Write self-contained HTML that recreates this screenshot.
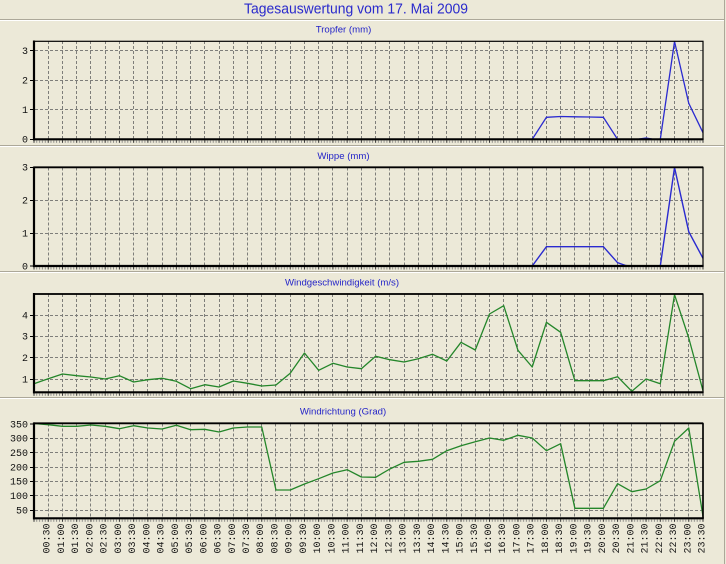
<!DOCTYPE html>
<html><head><meta charset="utf-8"><style>
html,body{margin:0;padding:0;background:#ECE9D8;}
svg{display:block;}
.yl{font-family:"Liberation Mono",monospace;font-size:10px;fill:#111;text-anchor:end;}
.xl{font-family:"Liberation Mono",monospace;font-size:10px;fill:#111;text-anchor:end;}
.st{font-family:"Liberation Sans",sans-serif;font-size:9.6px;fill:#2424C8;text-anchor:middle;}
.gr{fill:none;stroke:#7e7e7a;stroke-width:1;stroke-dasharray:3 2;}
.bx{fill:none;stroke:#000;stroke-width:1.2;}
.ax{stroke:#000;stroke-width:2.2;}
.tk{stroke:#000;stroke-width:1;}
</style></head><body>
<svg width="726" height="564" viewBox="0 0 726 564" xmlns="http://www.w3.org/2000/svg">
<defs>
<path id="vg98" d="M48.5 0v98M62.5 0v98M76.5 0v98M90.5 0v98M105.5 0v98M119.5 0v98M133.5 0v98M147.5 0v98M162.5 0v98M176.5 0v98M190.5 0v98M204.5 0v98M219.5 0v98M233.5 0v98M247.5 0v98M261.5 0v98M275.5 0v98M290.5 0v98M304.5 0v98M318.5 0v98M332.5 0v98M347.5 0v98M361.5 0v98M375.5 0v98M389.5 0v98M404.5 0v98M418.5 0v98M432.5 0v98M446.5 0v98M461.5 0v98M475.5 0v98M489.5 0v98M503.5 0v98M517.5 0v98M532.5 0v98M546.5 0v98M560.5 0v98M574.5 0v98M589.5 0v98M603.5 0v98M617.5 0v98M631.5 0v98M646.5 0v98M660.5 0v98M674.5 0v98M688.5 0v98"/>
<path id="vg95" d="M48.5 0v95M62.5 0v95M76.5 0v95M90.5 0v95M105.5 0v95M119.5 0v95M133.5 0v95M147.5 0v95M162.5 0v95M176.5 0v95M190.5 0v95M204.5 0v95M219.5 0v95M233.5 0v95M247.5 0v95M261.5 0v95M275.5 0v95M290.5 0v95M304.5 0v95M318.5 0v95M332.5 0v95M347.5 0v95M361.5 0v95M375.5 0v95M389.5 0v95M404.5 0v95M418.5 0v95M432.5 0v95M446.5 0v95M461.5 0v95M475.5 0v95M489.5 0v95M503.5 0v95M517.5 0v95M532.5 0v95M546.5 0v95M560.5 0v95M574.5 0v95M589.5 0v95M603.5 0v95M617.5 0v95M631.5 0v95M646.5 0v95M660.5 0v95M674.5 0v95M688.5 0v95"/>
<pattern id="tkp" x="33.5" y="0" width="14.234" height="10" patternUnits="userSpaceOnUse">
<rect x="0" y="0" width="1" height="10" fill="#333"/>
<rect x="2.847" y="0" width="0.8" height="10" fill="#777"/>
<rect x="5.694" y="0" width="0.8" height="10" fill="#777"/>
<rect x="8.54" y="0" width="0.8" height="10" fill="#777"/>
<rect x="11.387" y="0" width="0.8" height="10" fill="#777"/>
</pattern>
</defs>

<g shape-rendering="crispEdges">
<rect x="0" y="19" width="725" height="1" fill="#ACA899"/><rect x="0" y="20" width="725" height="1" fill="#fff"/>
<rect x="0" y="145" width="725" height="1" fill="#ACA899"/><rect x="0" y="146" width="725" height="1" fill="#fff"/>
<rect x="0" y="271" width="725" height="1" fill="#ACA899"/><rect x="0" y="272" width="725" height="1" fill="#fff"/>
<rect x="0" y="397" width="725" height="1" fill="#ACA899"/><rect x="0" y="398" width="725" height="1" fill="#fff"/>
<rect x="724" y="0" width="1" height="564" fill="#ACA899"/>
</g>

<text x="356" y="13.5" font-family="Liberation Sans, sans-serif" font-size="14.5" fill="#2A2ACC" text-anchor="middle" textLength="224" lengthAdjust="spacingAndGlyphs">Tagesauswertung vom 17. Mai 2009</text>

<text class="st" x="343.5" y="32.5">Tropfer (mm)</text>
<text class="st" x="343.5" y="158.8">Wippe (mm)</text>
<text class="st" x="342" y="285.5">Windgeschwindigkeit (m/s)</text>
<text class="st" x="343" y="414.3">Windrichtung (Grad)</text>

<!-- Panel 1 -->
<use href="#vg98" class="gr" y="41"/>
<path class="gr" d="M35 50.5H703M35 80.5H703M35 109.5H703"/>
<polyline fill="none" stroke="#2a2ad0" stroke-width="1.3" points="34,139.3 532.19,139.3 546.42,117.3 560.66,116.5 574.89,116.8 589.13,117 603.36,117.3 617.59,139.3 631.83,139.3 639,139 646.06,138 652,139 660.3,139.3 674.53,41.5 688.76,103.3 703,132.7"/>
<rect class="bx" x="34" y="41.3" width="669" height="98"/>
<line class="ax" x1="34" y1="40.5" x2="34" y2="140.4"/>
<line class="ax" x1="33" y1="139.3" x2="703.6" y2="139.3"/>
<rect x="33.5" y="140.3" width="670" height="2.5" fill="url(#tkp)"/>
<path class="tk" d="M30 139.5H33M30 109.5H33M30 80.5H33M30 50.5H33"/>
<text class="yl" x="28" y="142.6">0</text>
<text class="yl" x="28" y="113">1</text>
<text class="yl" x="28" y="83.4">2</text>
<text class="yl" x="28" y="53.8">3</text>

<!-- Panel 2 -->
<use href="#vg98" class="gr" y="167.5"/>
<path class="gr" d="M35 200.5H703M35 233.5H703"/>
<polyline fill="none" stroke="#2a2ad0" stroke-width="1.4" points="34,266 532.19,266 546.42,246.7 560.66,246.7 574.89,246.7 589.13,246.7 603.36,246.7 617.59,262.7 626,265.6 631.83,266 660.3,266 674.53,167.5 688.76,231.7 703,258.3"/>
<rect class="bx" x="34" y="167.3" width="669" height="98.7"/>
<line x1="34" y1="167.3" x2="703" y2="167.3" stroke="#000" stroke-width="1.8"/>
<line class="ax" x1="34" y1="166.5" x2="34" y2="267.1"/>
<line class="ax" x1="33" y1="266" x2="703.6" y2="266"/>
<rect x="33.5" y="267" width="670" height="2.5" fill="url(#tkp)"/>
<path class="tk" d="M30 266H33M30 233.5H33M30 200.5H33M30 167.5H33"/>
<text class="yl" x="28" y="269.3">0</text>
<text class="yl" x="28" y="236.3">1</text>
<text class="yl" x="28" y="203.3">2</text>
<text class="yl" x="28" y="170.6">3</text>

<!-- Panel 3 -->
<use href="#vg98" class="gr" y="294"/>
<path class="gr" d="M35 315.5H703M35 336.5H703M35 357.5H703M35 379.5H703"/>
<polyline fill="none" stroke="#24862a" stroke-width="1.3" stroke-linejoin="round" points="34,383.7 48.23,378.7 62.47,374 76.7,375.7 90.94,377 105.17,379 119.4,375.7 133.64,382 147.87,379.7 162.11,378.3 176.34,381.3 190.57,388.7 204.81,384.7 219.04,387 233.28,381 247.51,383.3 261.74,386 275.98,385 290.21,373.3 304.45,353 318.68,370.3 332.91,363.3 347.15,367 361.38,368.7 375.62,356.3 389.85,359.7 404.08,362 418.32,358.7 432.55,354.3 446.79,361 461.02,342.3 475.25,350 489.49,314 503.72,305.7 517.96,350.3 532.19,367 546.42,322.3 560.66,332.3 574.89,380.7 589.13,380.7 603.36,380.7 617.59,376.7 631.83,391.3 646.06,379 660.3,383.7 674.53,294.7 688.76,338 703,390.7"/>
<rect class="bx" x="34" y="294" width="669" height="98.3"/>
<line x1="34" y1="294" x2="703" y2="294" stroke="#000" stroke-width="1.8"/>
<line class="ax" x1="34" y1="293" x2="34" y2="393.4"/>
<line class="ax" x1="33" y1="392.3" x2="703.6" y2="392.3"/>
<rect x="33.5" y="393.3" width="670" height="2.5" fill="url(#tkp)"/>
<path class="tk" d="M30 379.5H33M30 357.5H33M30 336.5H33M30 315.5H33"/>
<text class="yl" x="28" y="382.5">1</text>
<text class="yl" x="28" y="361">2</text>
<text class="yl" x="28" y="339.6">3</text>
<text class="yl" x="28" y="318.3">4</text>

<!-- Panel 4 -->
<use href="#vg95" class="gr" y="423.5"/>
<path class="gr" d="M35 438.5H703M35 452.5H703M35 467.5H703M35 481.5H703M35 495.5H703M35 510.5H703"/>
<polyline fill="none" stroke="#24862a" stroke-width="1.3" stroke-linejoin="round" points="34,423.5 48.23,424.7 62.47,426.3 76.7,426.3 90.94,425 105.17,426.3 119.4,428.7 133.64,425.7 147.87,428 162.11,429 176.34,425.3 190.57,429.7 204.81,429.3 219.04,432 233.28,428 247.51,427 261.74,427 275.98,490 290.21,490 304.45,484 318.68,478.7 332.91,473 347.15,469.7 361.38,477 375.62,477.3 389.85,469 404.08,462.3 418.32,461.3 432.55,459.3 446.79,450.7 461.02,445.7 475.25,441.7 489.49,438 503.72,440.3 517.96,435.3 532.19,438 546.42,450.7 560.66,443.7 574.89,508.3 589.13,508.3 603.36,508.3 617.59,483.7 631.83,491.7 646.06,489 660.3,480.7 674.53,441.3 688.76,428 703,516.3"/>
<rect class="bx" x="34" y="423.3" width="669" height="95"/>
<line x1="34" y1="423.3" x2="703" y2="423.3" stroke="#000" stroke-width="1.8"/>
<line x1="703" y1="423.3" x2="703" y2="518.3" stroke="#000" stroke-width="1.6"/>
<line class="ax" x1="34" y1="422.4" x2="34" y2="519.4"/>
<line class="ax" x1="33" y1="518.3" x2="703.8" y2="518.3"/>
<rect x="33.5" y="519.3" width="670" height="2.5" fill="url(#tkp)"/>
<path class="tk" d="M30 424H33M30 438.5H33M30 452.5H33M30 467.5H33M30 481.5H33M30 495.5H33M30 510.5H33"/>
<text class="yl" x="28" y="427.3">350</text>
<text class="yl" x="28" y="441.6">300</text>
<text class="yl" x="28" y="456">250</text>
<text class="yl" x="28" y="470.3">200</text>
<text class="yl" x="28" y="484.7">150</text>
<text class="yl" x="28" y="499">100</text>
<text class="yl" x="28" y="513.4">50</text>

<g class="xl">
<text transform="translate(49.7,523.5) rotate(-90)">00:30</text>
<text transform="translate(64.0,523.5) rotate(-90)">01:00</text>
<text transform="translate(78.2,523.5) rotate(-90)">01:30</text>
<text transform="translate(92.4,523.5) rotate(-90)">02:00</text>
<text transform="translate(106.7,523.5) rotate(-90)">02:30</text>
<text transform="translate(120.9,523.5) rotate(-90)">03:00</text>
<text transform="translate(135.1,523.5) rotate(-90)">03:30</text>
<text transform="translate(149.4,523.5) rotate(-90)">04:00</text>
<text transform="translate(163.6,523.5) rotate(-90)">04:30</text>
<text transform="translate(177.8,523.5) rotate(-90)">05:00</text>
<text transform="translate(192.1,523.5) rotate(-90)">05:30</text>
<text transform="translate(206.3,523.5) rotate(-90)">06:00</text>
<text transform="translate(220.5,523.5) rotate(-90)">06:30</text>
<text transform="translate(234.8,523.5) rotate(-90)">07:00</text>
<text transform="translate(249.0,523.5) rotate(-90)">07:30</text>
<text transform="translate(263.2,523.5) rotate(-90)">08:00</text>
<text transform="translate(277.5,523.5) rotate(-90)">08:30</text>
<text transform="translate(291.7,523.5) rotate(-90)">09:00</text>
<text transform="translate(306.0,523.5) rotate(-90)">09:30</text>
<text transform="translate(320.2,523.5) rotate(-90)">10:00</text>
<text transform="translate(334.4,523.5) rotate(-90)">10:30</text>
<text transform="translate(348.7,523.5) rotate(-90)">11:00</text>
<text transform="translate(362.9,523.5) rotate(-90)">11:30</text>
<text transform="translate(377.1,523.5) rotate(-90)">12:00</text>
<text transform="translate(391.4,523.5) rotate(-90)">12:30</text>
<text transform="translate(405.6,523.5) rotate(-90)">13:00</text>
<text transform="translate(419.8,523.5) rotate(-90)">13:30</text>
<text transform="translate(434.1,523.5) rotate(-90)">14:00</text>
<text transform="translate(448.3,523.5) rotate(-90)">14:30</text>
<text transform="translate(462.5,523.5) rotate(-90)">15:00</text>
<text transform="translate(476.8,523.5) rotate(-90)">15:30</text>
<text transform="translate(491.0,523.5) rotate(-90)">16:00</text>
<text transform="translate(505.2,523.5) rotate(-90)">16:30</text>
<text transform="translate(519.5,523.5) rotate(-90)">17:00</text>
<text transform="translate(533.7,523.5) rotate(-90)">17:30</text>
<text transform="translate(547.9,523.5) rotate(-90)">18:00</text>
<text transform="translate(562.2,523.5) rotate(-90)">18:30</text>
<text transform="translate(576.4,523.5) rotate(-90)">19:00</text>
<text transform="translate(590.6,523.5) rotate(-90)">19:30</text>
<text transform="translate(604.9,523.5) rotate(-90)">20:00</text>
<text transform="translate(619.1,523.5) rotate(-90)">20:30</text>
<text transform="translate(633.3,523.5) rotate(-90)">21:00</text>
<text transform="translate(647.6,523.5) rotate(-90)">21:30</text>
<text transform="translate(661.8,523.5) rotate(-90)">22:00</text>
<text transform="translate(676.0,523.5) rotate(-90)">22:30</text>
<text transform="translate(690.3,523.5) rotate(-90)">23:00</text>
<text transform="translate(704.5,523.5) rotate(-90)">23:30</text>
</g>
</svg>
</body></html>
